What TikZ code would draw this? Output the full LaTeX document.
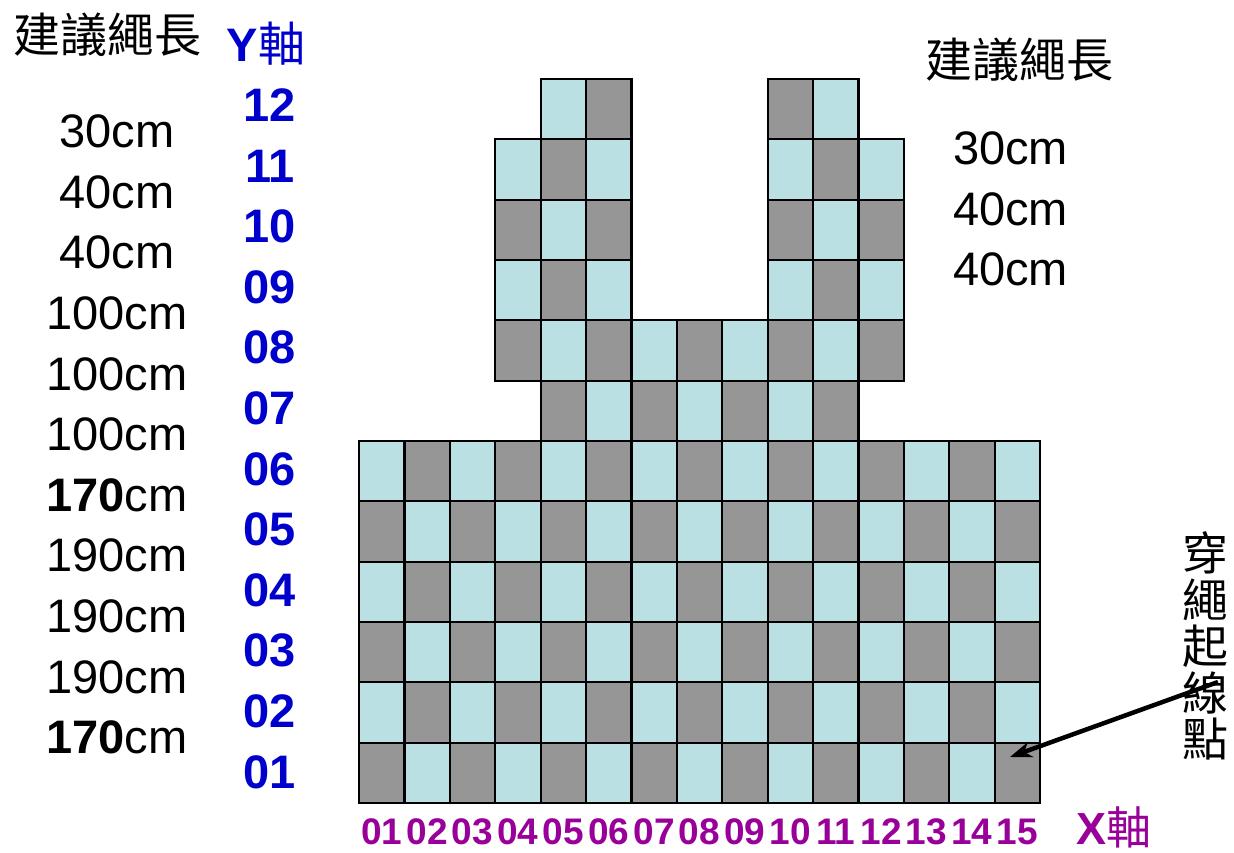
\documentclass[tikz,border=0pt]{standalone}
\usepackage{fontspec}
\setmainfont{Liberation Sans}
\newfontfamily\cjk{Noto Sans CJK TC}
\usetikzlibrary{arrows.meta}
\definecolor{cgray}{HTML}{969696}
\definecolor{clight}{HTML}{BBE0E3}
\definecolor{yblue}{HTML}{0000CC}
\definecolor{xpurple}{HTML}{990099}
\begin{document}
\begin{tikzpicture}[x=1pt,y=-1pt,
  cell/.style={draw=black,line width=2.2pt},
  lenlabel/.style={font=\fontsize{47}{50}\selectfont,inner sep=0pt},
  titlelabel/.style={font=\fontsize{47}{50}\selectfont\cjk,inner sep=0pt},
  ylab/.style={font=\fontsize{47}{50}\selectfont\bfseries,text=yblue,inner sep=0pt},
  xlab/.style={font=\fontsize{37}{40}\selectfont\bfseries,text=xpurple,inner sep=0pt},
  pointer/.style={line width=4.5pt,-{Stealth[length=22pt,width=16pt]}}]
\useasboundingbox (0,0) rectangle (1234,852);
% grid cells
\foreach \r/\a/\b in {1/1/15,2/1/15,3/1/15,4/1/15,5/1/15,6/1/15,7/5/11,8/4/12,9/4/6,9/10/12,10/4/6,10/10/12,11/4/6,11/10/12,12/5/6,12/10/11}{
  \foreach \c in {\a,...,\b}{
    \pgfmathtruncatemacro\p{mod(\c+\r,2)}
    \ifnum\p=0 \def\cc{cgray}\else\def\cc{clight}\fi
    \path[cell,fill=\cc] ({359+(\c-1)*45.4},{803-\r*60.33}) rectangle ({359+\c*45.4},{803-(\r-1)*60.33});
  }
}
% left titles
\node[titlelabel] (ltitle) at (107,35) {建議繩長};
\node[inner sep=0pt,text=yblue] (yaxis) at (266,44) {\fontsize{47}{50}\selectfont\bfseries Y\cjk\mdseries 軸};
% left lengths
\foreach \t [count=\i from 0] in {30cm,40cm,40cm,100cm,100cm,100cm,\textbf{170}cm,190cm,190cm,190cm,\textbf{170}cm}{
  \node[lenlabel] (len\i) at (117,{131.5+60.6*\i}) {\t};
}
% y axis numbers
\foreach \k/\t in {1/01,2/02,3/03,4/04,5/05,6/06,7/07,8/08,9/09,10/10,11/11,12/12}{
  \node[ylab] (y\k) at (270,{772-(\k-1)*60.6}) {\t};
}
% x axis numbers
\foreach \k/\t in {1/01,2/02,3/03,4/04,5/05,6/06,7/07,8/08,9/09,10/10,11/11,12/12,13/13,14/14,15/15}{
  \node[xlab] (x\k) at ({359+(\k-0.5)*45.4},832) {\t};
}
\node[inner sep=0pt,text=xpurple] (xaxis) at (1114,827) {\fontsize{45}{48}\selectfont\bfseries X\cjk\mdseries 軸};
% right titles
\node[titlelabel] (rtitle) at (1019,60) {建議繩長};
\node[lenlabel,anchor=west] (r1) at (953,148) {30cm};
\node[lenlabel,anchor=west] (r2) at (953,209) {40cm};
\node[lenlabel,anchor=west] (r3) at (953,269) {40cm};
% start point label
\node[inner sep=0pt,align=center,font=\fontsize{46}{46.5}\selectfont\cjk] (startlbl) at (1205,646) {穿\\繩\\起\\線\\點};
\coordinate (astart) at (1218,682);
\coordinate (apoint) at (1010,757);
\draw[pointer] (astart) -- (apoint);
\end{tikzpicture}
\end{document}
